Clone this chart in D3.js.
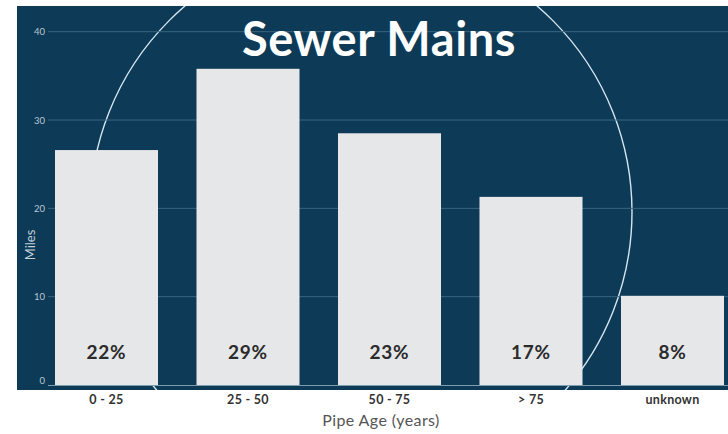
<!DOCTYPE html>
<html>
<head>
<meta charset="utf-8">
<style>
  body { margin: 0; background: #fff; }
  svg { display: block; }
</style>
</head>
<body>
<svg id="chart"></svg>
<script src="https://cdn.jsdelivr.net/npm/d3@7"></script>
<script>
// data
const categories = ["0 - 25", "25 - 50", "50 - 75", "> 75", "unknown"];
const miles = [26.6, 35.8, 28.5, 21.3, 10.1];
const shares = ["22%", "29%", "23%", "17%", "8%"];
const yTicks = [0, 10, 20, 30, 40];

const width = 728, height = 434;
const panel = { x: 17, y: 6, w: 711, h: 384 };

const svg = d3.select("#chart").attr("width", width).attr("height", height);

const x = d3.scaleBand()
  .domain(categories)
  .range([35.75, 743.25])
  .paddingInner(0.272)
  .paddingOuter(0.136);

const y = d3.scaleLinear()
  .domain([0, 40])
  .range([385, 31.7]);

// dark panel
svg.append("rect")
  .attr("x", panel.x).attr("y", panel.y)
  .attr("width", panel.w).attr("height", panel.h)
  .attr("fill", "#0c3a57");

svg.append("clipPath").attr("id", "clip")
  .append("rect")
  .attr("x", panel.x).attr("y", panel.y)
  .attr("width", panel.w).attr("height", panel.h);

// decorative circle
svg.append("circle")
  .attr("clip-path", "url(#clip)")
  .attr("cx", 361).attr("cy", 212).attr("r", 271)
  .attr("fill", "none")
  .attr("stroke", "#d6e6f0")
  .attr("stroke-width", 1.4);

// gridlines + y labels
const yAxis = d3.axisLeft(y).tickValues(yTicks).tickSize(0).tickPadding(0);
const gy = svg.append("g").attr("transform", "translate(45,0)").call(yAxis);
gy.select(".domain").remove();
gy.selectAll(".tick line").remove();
gy.selectAll("text")
  .attr("fill", "#b9c6d0")
  .attr("font-family", "Lato, sans-serif")
  .attr("font-size", 9.5)
  .attr("dy", d => d === 0 ? "-0.2em" : "0.32em");

svg.append("g").selectAll("line")
  .data(yTicks.filter(d => d > 0))
  .join("line")
  .attr("x1", 48).attr("x2", 728)
  .attr("y1", d => y(d)).attr("y2", d => y(d))
  .attr("stroke", "#3b6580")
  .attr("stroke-width", 1);

svg.append("line")
  .attr("x1", 48).attr("x2", 728)
  .attr("y1", y(0) + 0.5).attr("y2", y(0) + 0.5)
  .attr("stroke", "#7f9db0")
  .attr("stroke-width", 1);

// bars
svg.append("g").selectAll("rect")
  .data(categories)
  .join("rect")
  .attr("x", d => x(d))
  .attr("width", x.bandwidth())
  .attr("y", (d, i) => y(miles[i]))
  .attr("height", (d, i) => y(0) - y(miles[i]))
  .attr("fill", "#e6e7e9");

// percentage labels
svg.append("g").selectAll("text")
  .data(categories)
  .join("text")
  .attr("x", d => x(d) + x.bandwidth() / 2)
  .attr("y", 359)
  .attr("text-anchor", "middle")
  .attr("font-family", "Lato, sans-serif")
  .attr("font-weight", "bold")
  .attr("font-size", 19)
  .attr("letter-spacing", 0.8)
  .attr("fill", "#2b2b2b")
  .text((d, i) => shares[i]);

// x axis labels
const xAxis = d3.axisBottom(x).tickSize(0).tickPadding(0);
const gx = svg.append("g").attr("transform", "translate(0,404)").call(xAxis);
gx.select(".domain").remove();
gx.selectAll("text")
  .attr("dy", 0)
  .attr("fill", "#333")
  .attr("font-family", "Lato, sans-serif")
  .attr("font-weight", "bold")
  .attr("font-size", 12.5)
  .attr("letter-spacing", 0.3);

// title
svg.append("text")
  .attr("x", 379).attr("y", 56)
  .attr("text-anchor", "middle")
  .attr("font-family", "Lato, sans-serif")
  .attr("font-weight", "bold")
  .attr("font-size", 47)
  .attr("letter-spacing", 0.6)
  .attr("fill", "#ffffff")
  .text("Sewer Mains");

// axis titles
svg.append("text")
  .attr("x", 381).attr("y", 426)
  .attr("text-anchor", "middle")
  .attr("font-family", "Lato, sans-serif")
  .attr("font-size", 16)
  .attr("letter-spacing", 0.4)
  .attr("fill", "#555")
  .text("Pipe Age (years)");

svg.append("text")
  .attr("transform", "translate(35,245) rotate(-90)")
  .attr("text-anchor", "middle")
  .attr("font-family", "Lato, sans-serif")
  .attr("font-size", 13)
  .attr("fill", "#c4d0da")
  .text("Miles");
</script>
</body>
</html>
